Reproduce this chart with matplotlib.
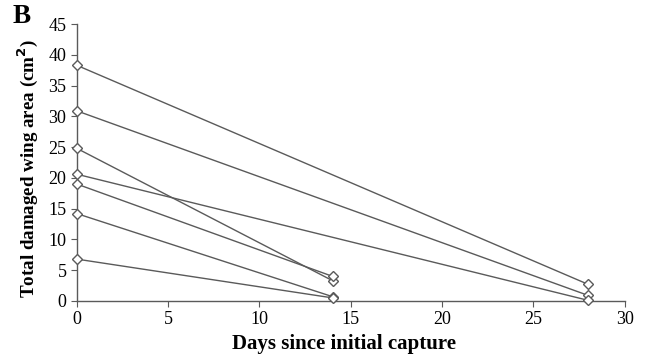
import matplotlib.pyplot as plt

plt.rcParams.update({
    "font.family": ["Liberation Serif", "DejaVu Serif"],
    "font.size": 11,
})

# each individual: (day of recapture, area at capture, area at recapture)
recap_day = [28, 28, 14, 28, 14, 14, 14]
area_start = [38.3, 30.9, 24.8, 20.6, 19.0, 14.2, 6.8]
area_end = [2.7, 0.9, 3.3, 0.1, 4.0, 0.7, 0.5]

XTICKS = [0, 5, 10, 15, 20, 25, 30]
YTICKS = [0, 5, 10, 15, 20, 25, 30, 35, 40, 45]
GREY = "#5a5a5a"

fig = plt.figure(figsize=(6.46, 3.6), dpi=100)
ax = fig.add_axes([0.119, 0.164, 0.848, 0.769])

for d, a0, a1 in zip(recap_day, area_start, area_end):
    ax.plot([0, d], [a0, a1], color=GREY, linewidth=1.0, marker="D",
            markersize=5.5, markerfacecolor="white", markeredgecolor=GREY,
            markeredgewidth=1.0, clip_on=False, zorder=3)

ax.set_xlim(0, 30)
ax.set_ylim(0, 45)
ax.set_xticks(XTICKS)
ax.set_yticks(YTICKS)
for s in ["top", "right"]:
    ax.spines[s].set_visible(False)
for s in ["left", "bottom"]:
    ax.spines[s].set_color(GREY)
    ax.spines[s].set_linewidth(1.0)
ax.tick_params(direction="out", length=4, color=GREY, labelsize=13)

ax.set_xlabel("Days since initial capture", fontsize=15, fontweight="bold",
              labelpad=4, x=0.487)
ax.set_ylabel("Total damaged wing area (cm$^\\mathbf{2}$)", fontsize=13.7,
              fontweight="bold", labelpad=6, y=0.478)
fig.text(0.02, 1 - 23 / 360, "B", fontsize=19.5, fontweight="bold",
         va="baseline")

fig.savefig("out.png", dpi=100)
